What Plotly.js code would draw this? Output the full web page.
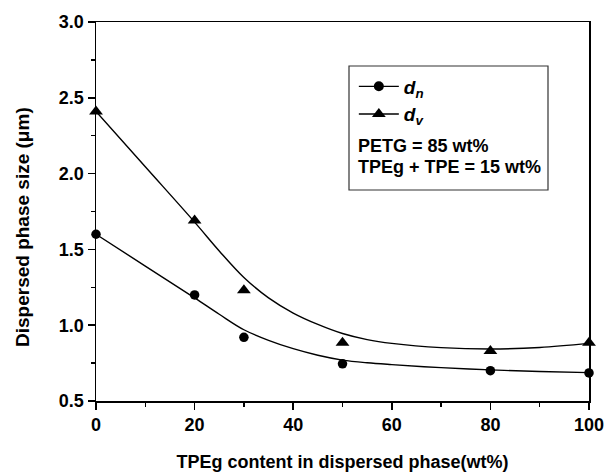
<!DOCTYPE html>
<html>
<head>
<meta charset="utf-8">
<script src="https://cdn.plot.ly/plotly-3.0.1.min.js"></script>
<style>html,body{margin:0;padding:0;background:#fff;}#chart{width:609px;height:474px;}</style>
</head>
<body>
<div id="chart"></div>
<script>
// Measured points
const xPts = [0, 20, 30, 50, 80, 100];
const dnPts = [1.60, 1.20, 0.92, 0.745, 0.70, 0.685];
const dvPts = [2.41, 1.69, 1.23, 0.885, 0.83, 0.885];

// Fitted curves
const xFit = [0, 10, 20, 25, 30, 35, 40, 45, 50, 55, 60, 70, 80, 90, 100];
const dnFit = [1.60, 1.39, 1.18, 1.072, 0.97, 0.90, 0.845, 0.802, 0.77, 0.752, 0.74, 0.72, 0.705, 0.695, 0.687];
const dvFit = [2.41, 2.045, 1.68, 1.49, 1.315, 1.18, 1.08, 1.005, 0.945, 0.905, 0.88, 0.852, 0.843, 0.853, 0.88];

const legendLabels = ['<b><i>d</i></b><sub><b><i>n</i></b></sub>', '<b><i>d</i></b><sub><b><i>v</i></b></sub>'];
const noteLines = ['PETG = 85 wt%', 'TPEg + TPE = 15 wt%'];
const xTitle = 'TPEg content in dispersed phase(wt%)';
const yTitle = 'Dispersed phase size (μm)';

const FONT = 'Liberation Sans, Arial, sans-serif';

const traces = [
  {x: xFit, y: dnFit, mode: 'lines', line: {color: '#000', width: 1.4, shape: 'spline', smoothing: 1}, showlegend: false, hoverinfo: 'skip'},
  {x: xFit, y: dvFit, mode: 'lines', line: {color: '#000', width: 1.4, shape: 'spline', smoothing: 1}, showlegend: false, hoverinfo: 'skip'},
  {x: xPts, y: dnPts, mode: 'markers', marker: {symbol: 'circle', size: 9.5, color: '#000'}, showlegend: false, cliponaxis: false},
  {x: xPts, y: dvPts, mode: 'markers', marker: {symbol: 'triangle-up', size: 12, color: '#000'}, showlegend: false, cliponaxis: false},
  {x: [null], y: [null], mode: 'lines+markers', name: legendLabels[0], line: {color: '#000', width: 1.4}, marker: {symbol: 'circle', size: 10, color: '#000'}},
  {x: [null], y: [null], mode: 'lines+markers', name: legendLabels[1], line: {color: '#000', width: 1.4}, marker: {symbol: 'triangle-up', size: 12, color: '#000'}}
];

const layout = {
  width: 609, height: 474,
  margin: {l: 96, r: 20, t: 22, b: 73},
  paper_bgcolor: '#fff', plot_bgcolor: '#fff',
  font: {family: FONT, color: '#000'},
  showlegend: true,
  legend: {
    x: 0.523, y: 0.88, xanchor: 'left', yanchor: 'top',
    bgcolor: 'rgba(0,0,0,0)', borderwidth: 0,
    font: {family: FONT, size: 19, color: '#000'},
    itemwidth: 40, tracegroupgap: 0
  },
  xaxis: {
    range: [0, 100], tickvals: [0, 20, 40, 60, 80, 100],
    ticks: 'outside', ticklen: 7, tickwidth: 1.5, tickcolor: '#000',
    minor: {tickvals: [10, 30, 50, 70, 90], ticks: 'outside', ticklen: 4, tickwidth: 1.5, tickcolor: '#000'},
    showline: true, linecolor: '#000', linewidth: 1.5, mirror: true,
    showgrid: false, zeroline: false,
    tickfont: {family: FONT, size: 18, weight: 'bold', color: '#000'},
    title: {text: xTitle, font: {family: FONT, size: 18, weight: 'bold', color: '#000'}, standoff: 21}
  },
  yaxis: {
    range: [0.5, 3.0], tickvals: [0.5, 1.0, 1.5, 2.0, 2.5, 3.0], ticktext: ['0.5', '1.0', '1.5', '2.0', '2.5', '3.0'],
    ticks: 'outside', ticklen: 7, tickwidth: 1.5, tickcolor: '#000',
    minor: {tickvals: [0.75, 1.25, 1.75, 2.25, 2.75], ticks: 'outside', ticklen: 4, tickwidth: 1.5, tickcolor: '#000'},
    showline: true, linecolor: '#000', linewidth: 1.5, mirror: true,
    showgrid: false, zeroline: false,
    tickfont: {family: FONT, size: 18, weight: 'bold', color: '#000'}
  },
  shapes: [
    {type: 'rect', xref: 'paper', yref: 'paper', x0: (349 - 96) / 493, x1: (548 - 96) / 493, y0: (401 - 190) / 379, y1: (401 - 66) / 379, line: {color: '#333', width: 1.2}, fillcolor: 'rgba(0,0,0,0)'}
  ],
  annotations: [
    {xref: 'paper', yref: 'paper', x: (356 - 96) / 493, y: (401 - 146) / 379, xanchor: 'left', yanchor: 'middle', showarrow: false, text: noteLines[0], font: {family: FONT, size: 18, weight: 'bold', color: '#000'}},
    {xref: 'paper', yref: 'paper', x: (356 - 96) / 493, y: (401 - 167) / 379, xanchor: 'left', yanchor: 'middle', showarrow: false, text: noteLines[1], font: {family: FONT, size: 18, weight: 'bold', color: '#000'}},
    {xref: 'paper', yref: 'paper', x: (22 - 96) / 493, y: (401 - 227) / 379, xanchor: 'center', yanchor: 'middle', textangle: -90, showarrow: false, text: yTitle, font: {family: FONT, size: 19, weight: 'bold', color: '#000'}}
  ]
};

Plotly.newPlot('chart', traces, layout, {staticPlot: true, displayModeBar: false});
</script>
</body>
</html>
